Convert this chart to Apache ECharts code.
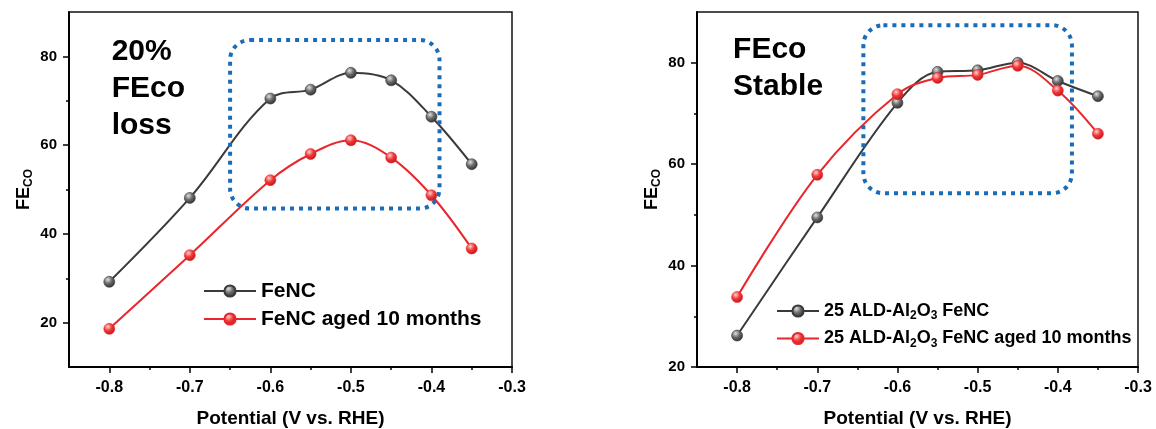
<!DOCTYPE html>
<html><head><meta charset="utf-8">
<script src="https://cdn.jsdelivr.net/npm/echarts@6/dist/echarts.min.js"></script>
<style>html,body{margin:0;padding:0;background:#fff}#c{width:1156px;height:429px}</style>
</head><body><div id="c"></div>
<script>
// ---------- data ----------
const potentials = [-0.8, -0.7, -0.6, -0.55, -0.5, -0.45, -0.4, -0.35];
const fencFresh  = [29.2, 48.1, 70.5, 72.5, 76.3, 74.6, 66.4, 55.7];
const fencAged   = [18.6, 35.2, 52.1, 58.0, 61.1, 57.2, 48.7, 36.7];
const aldFresh   = [26.2, 49.5, 72.1, 78.2, 78.5, 80.0, 76.4, 73.4];
const aldAged    = [33.8, 57.9, 73.8, 77.0, 77.6, 79.4, 74.5, 66.0];
const xMajorTicks = [-0.8, -0.7, -0.6, -0.5, -0.4, -0.3];
const xMinorTicks = [-0.75, -0.65, -0.55, -0.45, -0.35];
const yMajorTicks = [20, 40, 60, 80];
const yMinorTicks = [30, 50, 70];
const leftNames  = ['FeNC', 'FeNC aged 10 months'];
const rightNames = ['25 ALD-Al2O3 FeNC', '25 ALD-Al2O3 FeNC aged 10 months'];
const leftNote  = '20%\nFEco\nloss';
const rightNote = 'FEco\nStable';

// ---------- styling ----------
const FONT = '"Liberation Sans", Arial, Helvetica, sans-serif';
const BLUE = '#1b6cb6';
function ball(c0, c1, c2) {
  return {type: 'radial', x: 0.38, y: 0.32, r: 0.75,
    colorStops: [{offset: 0, color: c0}, {offset: 0.45, color: c1}, {offset: 1, color: c2}]};
}
const blackBall = ball('#e0e0e0', '#6b6b6b', '#262626');
const redBall = ball('#ffd0d0', '#f03a3a', '#b81010');

const gridL = {left: 69, top: 12, right: 644, bottom: 62, outerBoundsMode: 'none', containLabel: false};
const gridR = {left: 697, top: 12, right: 18, bottom: 62, outerBoundsMode: 'none', containLabel: false};

function mainX(g) {
  return {type: 'value', gridIndex: g, min: -0.85, max: -0.3,
    axisLine: {show: true, onZero: false, lineStyle: {color: '#000', width: 2}},
    axisTick: {show: true, customValues: xMajorTicks, length: 6, lineStyle: {color: '#000', width: 1.5}},
    axisLabel: {customValues: xMajorTicks, color: '#000', fontWeight: 'bold', fontSize: 16, fontFamily: FONT, margin: 13,
      formatter: v => v.toFixed(1)},
    splitLine: {show: false},
    name: 'Potential (V vs. RHE)', nameLocation: 'middle', nameGap: 42,
    nameTextStyle: {color: '#000', fontWeight: 'bold', fontSize: 19, fontFamily: FONT}};
}
function minorX(g) {
  return {type: 'value', gridIndex: g, min: -0.85, max: -0.3,
    axisLine: {show: false, onZero: false},
    axisTick: {show: true, customValues: xMinorTicks, length: 3, lineStyle: {color: '#000', width: 1.5}},
    axisLabel: {show: false}, splitLine: {show: false}};
}
function mainY(g, min) {
  return {type: 'value', gridIndex: g, min: min, max: 90,
    axisLine: {show: true, onZero: false, lineStyle: {color: '#000', width: 2}},
    axisTick: {show: true, customValues: yMajorTicks, length: 6, lineStyle: {color: '#000', width: 1.5}},
    axisLabel: {customValues: yMajorTicks, color: '#000', fontWeight: 'bold', fontSize: 15, fontFamily: FONT, margin: 12},
    splitLine: {show: false},
    name: 'FE{s|CO}', nameLocation: 'middle', nameGap: 34,
    nameTextStyle: {color: '#000', fontWeight: 'bold', fontSize: 18, fontFamily: FONT, lineHeight: 22,
      rich: {s: {fontSize: 12, fontWeight: 'bold', fontFamily: FONT, color: '#000', verticalAlign: 'bottom', lineHeight: 12}}}};
}
function minorY(g, min) {
  return {type: 'value', gridIndex: g, min: min, max: 90,
    axisLine: {show: false, onZero: false},
    axisTick: {show: true, customValues: yMinorTicks, length: 3, lineStyle: {color: '#000', width: 1.5}},
    axisLabel: {show: false}, splitLine: {show: false}};
}
function pairs(ys) { return potentials.map((x, i) => [x, ys[i]]); }
function line(name, ys, xi, yi, color, fill) {
  return {type: 'line', name: name, xAxisIndex: xi, yAxisIndex: yi, data: pairs(ys),
    smooth: 0.35, symbol: 'circle', symbolSize: 11,
    lineStyle: {color: color, width: 2},
    itemStyle: {color: fill, borderColor: color, borderWidth: 0.6},
    emphasis: {disabled: true}, z: 3};
}

const chart = echarts.init(document.getElementById('c'), null, {renderer: 'canvas'});
chart.setOption({
  animation: false,
  backgroundColor: '#fff',
  textStyle: {fontFamily: FONT},
  grid: [
    Object.assign({show: true, borderColor: '#111', borderWidth: 1.5}, gridL),
    Object.assign({show: false}, gridL),
    Object.assign({show: true, borderColor: '#111', borderWidth: 1.5}, gridR),
    Object.assign({show: false}, gridR)
  ],
  xAxis: [mainX(0), minorX(1), mainX(2), minorX(3)],
  yAxis: [mainY(0, 10), minorY(1, 10), mainY(2, 20), minorY(3, 20)],
  legend: [
    {orient: 'vertical', left: 198, top: 275, itemWidth: 52, itemHeight: 14, itemGap: 6, selectedMode: false,
      textStyle: {color: '#000', fontWeight: 'bold', fontSize: 21, fontFamily: FONT, lineHeight: 22},
      data: leftNames},
    {orient: 'vertical', left: 771, top: 295, itemWidth: 42, itemHeight: 14, itemGap: 5.5, selectedMode: false,
      formatter: n => n.replace('Al2O3', 'Al{s|2}O{s|3}'),
      textStyle: {color: '#000', fontWeight: 'bold', fontSize: 18, fontFamily: FONT, lineHeight: 22,
        rich: {s: {fontSize: 12, fontWeight: 'bold', fontFamily: FONT, color: '#000', verticalAlign: 'bottom', lineHeight: 12}}},
      data: rightNames}
  ],
  series: [
    line(leftNames[0], fencFresh, 0, 0, '#3a3a3a', blackBall),
    line(leftNames[1], fencAged, 0, 0, '#e8262c', redBall),
    line(rightNames[0], aldFresh, 2, 2, '#3a3a3a', blackBall),
    line(rightNames[1], aldAged, 2, 2, '#e8262c', redBall)
  ]
});

// annotation boxes in data coordinates
const boxes = [
  {grid: 0, x0: -0.650, x1: -0.390, y0: 83.7, y1: 45.7},
  {grid: 2, x0: -0.6425, x1: -0.3824, y0: 87.4, y1: 54.25}
];
const graphics = boxes.map(b => {
  const p0 = chart.convertToPixel({gridIndex: b.grid}, [b.x0, b.y0]);
  const p1 = chart.convertToPixel({gridIndex: b.grid}, [b.x1, b.y1]);
  return {type: 'rect', z: 100, silent: true,
    shape: {x: p0[0], y: p0[1], width: p1[0] - p0[0], height: p1[1] - p0[1], r: 20},
    style: {fill: 'none', stroke: BLUE, lineWidth: 4, lineDash: [4, 5]}};
});
const noteAt = (g, xv, yv) => chart.convertToPixel({gridIndex: g}, [xv, yv]);
const nL = noteAt(0, -0.797, 85.2);
const nR = noteAt(2, -0.805, 86.2);
graphics.push({type: 'text', z: 100, silent: true, x: nL[0], y: nL[1],
  style: {text: leftNote, fontSize: 30, fontWeight: 'bold', fontFamily: FONT, lineHeight: 37, fill: '#000'}});
graphics.push({type: 'text', z: 100, silent: true, x: nR[0], y: nR[1],
  style: {text: rightNote, fontSize: 30, fontWeight: 'bold', fontFamily: FONT, lineHeight: 37, fill: '#000'}});
chart.setOption({graphic: graphics});
</script>
</body></html>
